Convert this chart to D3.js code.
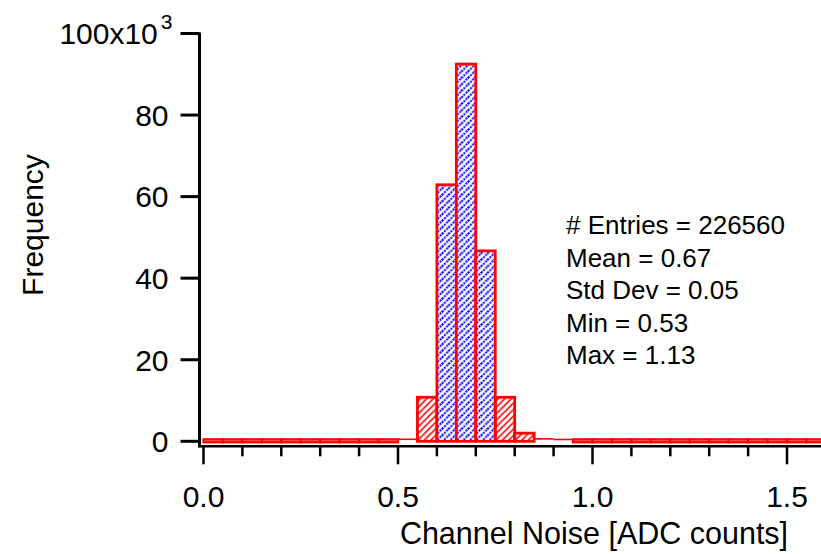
<!DOCTYPE html>
<html>
<head>
<meta charset="utf-8">
<script src="https://cdn.jsdelivr.net/npm/d3@7"></script>
<style>
  body { margin: 0; background: #fff; }
  text { font-family: "Liberation Sans", Arial, sans-serif; fill: #000; }
</style>
</head>
<body>
<svg id="hist" width="821" height="554"></svg>
<script>
// histogram bins: start of each 0.05 wide bin
const binWidth = 0.05
const binStarts = [0.00, 0.05, 0.10, 0.15, 0.20, 0.25, 0.30, 0.35, 0.40, 0.45,
                   0.50, 0.55, 0.60, 0.65, 0.70, 0.75, 0.80, 0.85, 0.90, 0.95,
                   1.00, 1.05, 1.10, 1.15, 1.20, 1.25, 1.30, 1.35, 1.40, 1.45,
                   1.50, 1.55]
const counts = [0, 0, 0, 0, 0, 0, 0, 0, 0, 0,
                250, 10800, 62900, 92500, 46700, 10800, 2000, 350, 200, 30,
                8, 3, 1, 0, 0, 0, 0, 0, 0, 0,
                0, 0]
const yTicks = [0, 20000, 40000, 60000, 80000]
const xMajor = [0.0, 0.5, 1.0, 1.5]
const xMinor = [0.1, 0.2, 0.3, 0.4, 0.6, 0.7, 0.8, 0.9, 1.1, 1.2, 1.3, 1.4, 1.6]
const stats = { entries: 226560, mean: 0.67, std: 0.05, min: 0.53, max: 1.13 }
const statLines = [
  `# Entries = ${stats.entries}`,
  `Mean = ${stats.mean.toFixed(2)}`,
  `Std Dev = ${stats.std.toFixed(2)}`,
  `Min = ${stats.min.toFixed(2)}`,
  `Max = ${stats.max.toFixed(2)}`
]

const svg = d3.select('svg#hist')
const x = d3.scaleLinear().domain([0, 1.6]).range([203.5, 825.9])
const y = d3.scaleLinear().domain([0, 100000]).range([441.3, 33.5])
const axisX = 199.5
const axisY = y(0) + 5

// hatch patterns
const defs = svg.append('defs')
const red = defs.append('pattern')
  .attr('id', 'hatchRed').attr('patternUnits', 'userSpaceOnUse')
  .attr('width', 6.5).attr('height', 6.5)
red.append('path')
  .attr('d', 'M0,6.5 L6.5,0 M-1,1 L1,-1 M5.5,7.5 L7.5,5.5')
  .attr('stroke', '#ff0000').attr('stroke-width', 1.5)
// blue: dotted diagonals
const blue = defs.append('pattern')
  .attr('id', 'hatchBlue').attr('patternUnits', 'userSpaceOnUse')
  .attr('width', 6.5).attr('height', 6.5)
blue.append('rect').attr('width', 6.5).attr('height', 6.5).attr('fill', '#fff')
blue.append('path')
  .attr('d', 'M0,6.5 L6.5,0')
  .attr('stroke', '#0000ff').attr('stroke-width', 2)
  .attr('stroke-dasharray', '2,1.064')
blue.append('path')
  .attr('d', 'M-1,1 L1,-1 M5.5,7.5 L7.5,5.5')
  .attr('stroke', '#0000ff').attr('stroke-width', 2)

const bins = binStarts.map((s, i) => ({ x0: s, x1: s + binWidth, n: counts[i] }))
const inSigma = d => d.x1 > stats.mean - stats.std && d.x0 < stats.mean + stats.std

// zero bins: thick band on baseline
svg.append('g').selectAll('rect')
  .data(bins.filter(d => d.n < 100))
  .enter().append('rect')
    .attr('x', d => x(d.x0)).attr('width', d => x(d.x1) - x(d.x0))
    .attr('y', y(0) - 2).attr('height', 3)
    .attr('fill', '#ff7070').attr('stroke', '#ff0000').attr('stroke-width', 2.2)

// tiny bins: only the top edge shows
svg.append('g').selectAll('line')
  .data(bins.filter(d => d.n >= 100 && d.n < 1000))
  .enter().append('line')
    .attr('x1', d => x(d.x0)).attr('x2', d => x(d.x1))
    .attr('y1', d => y(d.n) - 1).attr('y2', d => y(d.n) - 1)
    .attr('stroke', '#ff0000').attr('stroke-width', 1.6)

// bars
svg.append('g').selectAll('rect')
  .data(bins.filter(d => d.n >= 1000))
  .enter().append('rect')
    .attr('x', d => x(d.x0)).attr('width', d => x(d.x1) - x(d.x0))
    .attr('y', d => y(d.n)).attr('height', d => y(0) - y(d.n))
    .attr('fill', d => inSigma(d) ? 'url(#hatchBlue)' : 'url(#hatchRed)')
    .attr('stroke', '#ff0000').attr('stroke-width', 2.8)

// y axis
const gy = svg.append('g')
gy.append('line')
  .attr('x1', axisX).attr('x2', axisX).attr('y1', y(100000) - 1).attr('y2', axisY + 1)
  .attr('stroke', '#000').attr('stroke-width', 3)
gy.selectAll('line.tick')
  .data(yTicks.concat([100000]))
  .enter().append('line')
    .attr('class', 'tick')
    .attr('x1', axisX - 19).attr('x2', axisX)
    .attr('y1', d => y(d)).attr('y2', d => y(d))
    .attr('stroke', '#000').attr('stroke-width', 3)
gy.selectAll('text')
  .data(yTicks)
  .enter().append('text')
    .attr('x', axisX - 31).attr('y', d => y(d))
    .attr('dy', '0.36em').attr('text-anchor', 'end')
    .style('font-size', '30px')
    .text(d => d / 1000)
const topLabel = gy.append('text')
  .attr('x', axisX - 27).attr('y', y(100000))
  .attr('dy', '0.36em').attr('text-anchor', 'end')
  .style('font-size', '30px')
topLabel.append('tspan').text('100x10')
topLabel.append('tspan').attr('dx', 3).attr('dy', '-0.72em').style('font-size', '21px').text('3')

// x axis
const gx = svg.append('g')
gx.append('line')
  .attr('x1', axisX - 1.5).attr('x2', 821).attr('y1', axisY).attr('y2', axisY)
  .attr('stroke', '#000').attr('stroke-width', 2.5)
gx.selectAll('line.major')
  .data(xMajor)
  .enter().append('line')
    .attr('x1', d => x(d)).attr('x2', d => x(d))
    .attr('y1', axisY).attr('y2', axisY + 18)
    .attr('stroke', '#000').attr('stroke-width', 2.5)
gx.selectAll('line.minor')
  .data(xMinor)
  .enter().append('line')
    .attr('x1', d => x(d)).attr('x2', d => x(d))
    .attr('y1', axisY).attr('y2', axisY + 10)
    .attr('stroke', '#000').attr('stroke-width', 2.5)
gx.selectAll('text')
  .data(xMajor)
  .enter().append('text')
    .attr('x', d => x(d)).attr('y', 507)
    .attr('text-anchor', 'middle')
    .style('font-size', '30px')
    .text(d => d.toFixed(1))

// axis titles
svg.append('text')
  .attr('x', 594).attr('y', 544)
  .attr('text-anchor', 'middle')
  .style('font-size', '30.5px')
  .text('Channel Noise [ADC counts]')
svg.append('text')
  .attr('transform', 'translate(43,225) rotate(-90)')
  .attr('text-anchor', 'middle')
  .style('font-size', '30px')
  .text('Frequency')

// statistics box
svg.append('g').selectAll('text')
  .data(statLines)
  .enter().append('text')
    .attr('x', 566).attr('y', (d, i) => 234 + i * 32.5)
    .style('font-size', '26px')
    .text(d => d)
</script>
</body>
</html>
